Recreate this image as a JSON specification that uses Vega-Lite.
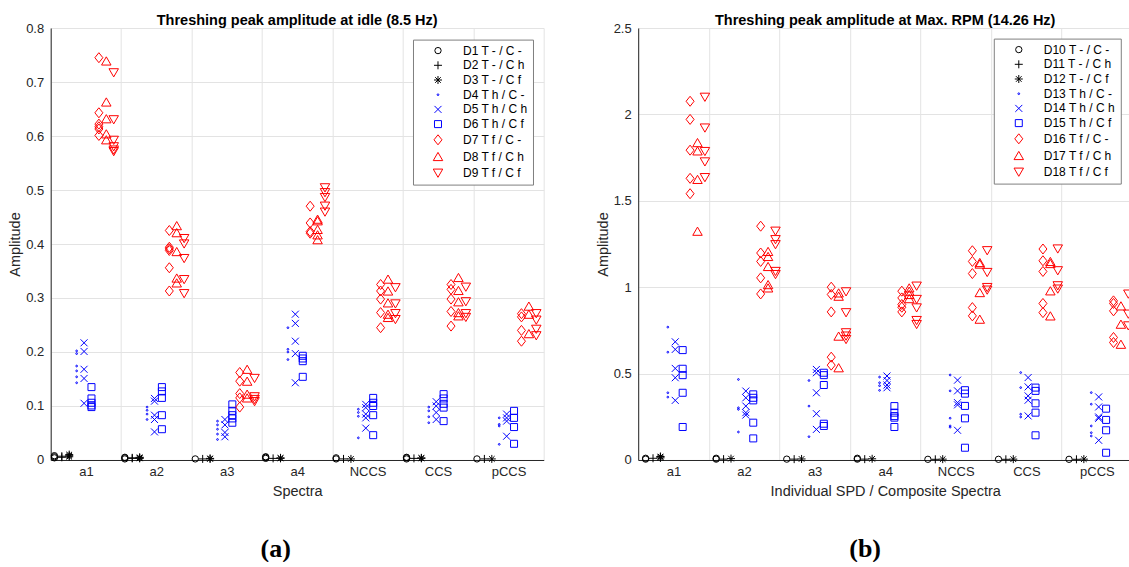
{
  "$schema": "https://vega.github.io/schema/vega-lite/v6.json",
  "padding": {"left": 6.7, "top": 12, "right": 0, "bottom": 0},
  "background": "white",
  "config": {
    "font": "Liberation Sans",
    "view": {"stroke": null},
    "axis": {"domainColor": "#262626", "domainWidth": 1, "labelColor": "#262626", "titleColor": "#262626", "labelFontSize": 13, "titleFontSize": 14.5, "titleFontWeight": "normal", "gridColor": "#e3e3e3", "gridWidth": 1, "ticks": false, "labelPadding": 7},
    "axisX": {"labelPadding": 6, "titlePadding": 6},
    "axisY": {"titlePadding": 3},
    "legend": {"orient": "none", "title": null, "strokeColor": "#808080", "fillColor": "white", "padding": 5, "labelFontSize": 12, "labelColor": "black", "symbolOffset": 14, "labelOffset": 19, "rowPadding": 2.7, "symbolStrokeWidth": 1},
    "concat": {"spacing": 50.5}
  },
  "datasets": {
    "left": [
      {"c":"a1","s":"D1","v":0.004},{"c":"a1","s":"D1","v":0.006},{"c":"a1","s":"D1","v":0.008},
      {"c":"a1","s":"D2","v":0.005},{"c":"a1","s":"D2","v":0.007},
      {"c":"a1","s":"D3","v":0.006},{"c":"a1","s":"D3","v":0.008},{"c":"a1","s":"D3","v":0.01},
      {"c":"a1","s":"D4","v":0.202},{"c":"a1","s":"D4","v":0.197},{"c":"a1","s":"D4","v":0.174},{"c":"a1","s":"D4","v":0.165},{"c":"a1","s":"D4","v":0.154},{"c":"a1","s":"D4","v":0.143},
      {"c":"a1","s":"D5","v":0.217},{"c":"a1","s":"D5","v":0.201},{"c":"a1","s":"D5","v":0.168},{"c":"a1","s":"D5","v":0.151},{"c":"a1","s":"D5","v":0.105},
      {"c":"a1","s":"D6","v":0.135},{"c":"a1","s":"D6","v":0.114},{"c":"a1","s":"D6","v":0.106},{"c":"a1","s":"D6","v":0.101},{"c":"a1","s":"D6","v":0.098},
      {"c":"a1","s":"D7","v":0.745},{"c":"a1","s":"D7","v":0.643},{"c":"a1","s":"D7","v":0.622},{"c":"a1","s":"D7","v":0.617},{"c":"a1","s":"D7","v":0.613},{"c":"a1","s":"D7","v":0.601},
      {"c":"a1","s":"D8","v":0.739},{"c":"a1","s":"D8","v":0.663},{"c":"a1","s":"D8","v":0.632},{"c":"a1","s":"D8","v":0.604},{"c":"a1","s":"D8","v":0.593},
      {"c":"a1","s":"D9","v":0.717},{"c":"a1","s":"D9","v":0.63},{"c":"a1","s":"D9","v":0.592},{"c":"a1","s":"D9","v":0.58},{"c":"a1","s":"D9","v":0.574},{"c":"a1","s":"D9","v":0.571},
      {"c":"a2","s":"D1","v":0.002},{"c":"a2","s":"D1","v":0.004},{"c":"a2","s":"D1","v":0.005},
      {"c":"a2","s":"D2","v":0.003},{"c":"a2","s":"D2","v":0.004},
      {"c":"a2","s":"D3","v":0.003},{"c":"a2","s":"D3","v":0.004},{"c":"a2","s":"D3","v":0.005},
      {"c":"a2","s":"D4","v":0.098},{"c":"a2","s":"D4","v":0.092},{"c":"a2","s":"D4","v":0.085},{"c":"a2","s":"D4","v":0.075},
      {"c":"a2","s":"D5","v":0.114},{"c":"a2","s":"D5","v":0.109},{"c":"a2","s":"D5","v":0.083},{"c":"a2","s":"D5","v":0.075},{"c":"a2","s":"D5","v":0.052},
      {"c":"a2","s":"D6","v":0.135},{"c":"a2","s":"D6","v":0.127},{"c":"a2","s":"D6","v":0.115},{"c":"a2","s":"D6","v":0.083},{"c":"a2","s":"D6","v":0.057},
      {"c":"a2","s":"D7","v":0.425},{"c":"a2","s":"D7","v":0.394},{"c":"a2","s":"D7","v":0.391},{"c":"a2","s":"D7","v":0.388},{"c":"a2","s":"D7","v":0.356},{"c":"a2","s":"D7","v":0.313},
      {"c":"a2","s":"D8","v":0.434},{"c":"a2","s":"D8","v":0.421},{"c":"a2","s":"D8","v":0.386},{"c":"a2","s":"D8","v":0.337},{"c":"a2","s":"D8","v":0.328},
      {"c":"a2","s":"D9","v":0.41},{"c":"a2","s":"D9","v":0.4},{"c":"a2","s":"D9","v":0.373},{"c":"a2","s":"D9","v":0.334},{"c":"a2","s":"D9","v":0.308},
      {"c":"a3","s":"D1","v":0.002},
      {"c":"a3","s":"D2","v":0.002},
      {"c":"a3","s":"D3","v":0.002},{"c":"a3","s":"D3","v":0.003},
      {"c":"a3","s":"D4","v":0.072},{"c":"a3","s":"D4","v":0.065},{"c":"a3","s":"D4","v":0.057},{"c":"a3","s":"D4","v":0.048},{"c":"a3","s":"D4","v":0.038},
      {"c":"a3","s":"D5","v":0.075},{"c":"a3","s":"D5","v":0.065},{"c":"a3","s":"D5","v":0.051},{"c":"a3","s":"D5","v":0.043},
      {"c":"a3","s":"D6","v":0.103},{"c":"a3","s":"D6","v":0.091},{"c":"a3","s":"D6","v":0.083},{"c":"a3","s":"D6","v":0.077},{"c":"a3","s":"D6","v":0.069},
      {"c":"a3","s":"D7","v":0.162},{"c":"a3","s":"D7","v":0.146},{"c":"a3","s":"D7","v":0.123},{"c":"a3","s":"D7","v":0.115},{"c":"a3","s":"D7","v":0.098},
      {"c":"a3","s":"D8","v":0.168},{"c":"a3","s":"D8","v":0.146},{"c":"a3","s":"D8","v":0.122},{"c":"a3","s":"D8","v":0.115},
      {"c":"a3","s":"D9","v":0.151},{"c":"a3","s":"D9","v":0.117},{"c":"a3","s":"D9","v":0.112},{"c":"a3","s":"D9","v":0.108},
      {"c":"a4","s":"D1","v":0.003},{"c":"a4","s":"D1","v":0.005},{"c":"a4","s":"D1","v":0.006},
      {"c":"a4","s":"D2","v":0.003},
      {"c":"a4","s":"D3","v":0.003},{"c":"a4","s":"D3","v":0.004},
      {"c":"a4","s":"D4","v":0.245},{"c":"a4","s":"D4","v":0.205},{"c":"a4","s":"D4","v":0.2},{"c":"a4","s":"D4","v":0.186},
      {"c":"a4","s":"D5","v":0.27},{"c":"a4","s":"D5","v":0.253},{"c":"a4","s":"D5","v":0.22},{"c":"a4","s":"D5","v":0.197},{"c":"a4","s":"D5","v":0.143},
      {"c":"a4","s":"D6","v":0.193},{"c":"a4","s":"D6","v":0.188},{"c":"a4","s":"D6","v":0.183},{"c":"a4","s":"D6","v":0.154},
      {"c":"a4","s":"D7","v":0.47},{"c":"a4","s":"D7","v":0.439},{"c":"a4","s":"D7","v":0.423},{"c":"a4","s":"D7","v":0.42},
      {"c":"a4","s":"D8","v":0.446},{"c":"a4","s":"D8","v":0.443},{"c":"a4","s":"D8","v":0.427},{"c":"a4","s":"D8","v":0.417},{"c":"a4","s":"D8","v":0.408},
      {"c":"a4","s":"D9","v":0.504},{"c":"a4","s":"D9","v":0.495},{"c":"a4","s":"D9","v":0.486},{"c":"a4","s":"D9","v":0.47},{"c":"a4","s":"D9","v":0.459},
      {"c":"NCCS","s":"D1","v":0.002},{"c":"NCCS","s":"D1","v":0.004},
      {"c":"NCCS","s":"D2","v":0.002},
      {"c":"NCCS","s":"D3","v":0.002},
      {"c":"NCCS","s":"D4","v":0.094},{"c":"NCCS","s":"D4","v":0.088},{"c":"NCCS","s":"D4","v":0.081},{"c":"NCCS","s":"D4","v":0.041},
      {"c":"NCCS","s":"D5","v":0.103},{"c":"NCCS","s":"D5","v":0.097},{"c":"NCCS","s":"D5","v":0.085},{"c":"NCCS","s":"D5","v":0.078},{"c":"NCCS","s":"D5","v":0.059},
      {"c":"NCCS","s":"D6","v":0.115},{"c":"NCCS","s":"D6","v":0.106},{"c":"NCCS","s":"D6","v":0.1},{"c":"NCCS","s":"D6","v":0.083},{"c":"NCCS","s":"D6","v":0.046},
      {"c":"NCCS","s":"D7","v":0.325},{"c":"NCCS","s":"D7","v":0.313},{"c":"NCCS","s":"D7","v":0.298},{"c":"NCCS","s":"D7","v":0.273},{"c":"NCCS","s":"D7","v":0.245},
      {"c":"NCCS","s":"D8","v":0.335},{"c":"NCCS","s":"D8","v":0.313},{"c":"NCCS","s":"D8","v":0.291},{"c":"NCCS","s":"D8","v":0.27},{"c":"NCCS","s":"D8","v":0.264},
      {"c":"NCCS","s":"D9","v":0.319},{"c":"NCCS","s":"D9","v":0.289},{"c":"NCCS","s":"D9","v":0.271},{"c":"NCCS","s":"D9","v":0.26},
      {"c":"CCS","s":"D1","v":0.002},{"c":"CCS","s":"D1","v":0.004},{"c":"CCS","s":"D1","v":0.005},
      {"c":"CCS","s":"D2","v":0.003},
      {"c":"CCS","s":"D3","v":0.003},{"c":"CCS","s":"D3","v":0.004},
      {"c":"CCS","s":"D4","v":0.098},{"c":"CCS","s":"D4","v":0.091},{"c":"CCS","s":"D4","v":0.08},{"c":"CCS","s":"D4","v":0.069},
      {"c":"CCS","s":"D5","v":0.108},{"c":"CCS","s":"D5","v":0.1},{"c":"CCS","s":"D5","v":0.088},{"c":"CCS","s":"D5","v":0.075},
      {"c":"CCS","s":"D6","v":0.122},{"c":"CCS","s":"D6","v":0.114},{"c":"CCS","s":"D6","v":0.104},{"c":"CCS","s":"D6","v":0.097},{"c":"CCS","s":"D6","v":0.072},
      {"c":"CCS","s":"D7","v":0.325},{"c":"CCS","s":"D7","v":0.316},{"c":"CCS","s":"D7","v":0.298},{"c":"CCS","s":"D7","v":0.275},{"c":"CCS","s":"D7","v":0.248},
      {"c":"CCS","s":"D8","v":0.338},{"c":"CCS","s":"D8","v":0.314},{"c":"CCS","s":"D8","v":0.293},{"c":"CCS","s":"D8","v":0.273},{"c":"CCS","s":"D8","v":0.267},
      {"c":"CCS","s":"D9","v":0.32},{"c":"CCS","s":"D9","v":0.293},{"c":"CCS","s":"D9","v":0.271},{"c":"CCS","s":"D9","v":0.264},
      {"c":"pCCS","s":"D1","v":0.002},
      {"c":"pCCS","s":"D2","v":0.002},
      {"c":"pCCS","s":"D3","v":0.002},
      {"c":"pCCS","s":"D4","v":0.078},{"c":"pCCS","s":"D4","v":0.066},{"c":"pCCS","s":"D4","v":0.063},{"c":"pCCS","s":"D4","v":0.029},
      {"c":"pCCS","s":"D5","v":0.085},{"c":"pCCS","s":"D5","v":0.078},{"c":"pCCS","s":"D5","v":0.072},{"c":"pCCS","s":"D5","v":0.044},
      {"c":"pCCS","s":"D6","v":0.091},{"c":"pCCS","s":"D6","v":0.078},{"c":"pCCS","s":"D6","v":0.061},{"c":"pCCS","s":"D6","v":0.03},
      {"c":"pCCS","s":"D7","v":0.271},{"c":"pCCS","s":"D7","v":0.265},{"c":"pCCS","s":"D7","v":0.24},{"c":"pCCS","s":"D7","v":0.22},
      {"c":"pCCS","s":"D8","v":0.285},{"c":"pCCS","s":"D8","v":0.27},{"c":"pCCS","s":"D8","v":0.234},
      {"c":"pCCS","s":"D9","v":0.271},{"c":"pCCS","s":"D9","v":0.259},{"c":"pCCS","s":"D9","v":0.242},{"c":"pCCS","s":"D9","v":0.23}
    ],
    "right": [
      {"c":"a1","s":"D10","v":0.005},{"c":"a1","s":"D10","v":0.01},
      {"c":"a1","s":"D11","v":0.01},
      {"c":"a1","s":"D12","v":0.012},{"c":"a1","s":"D12","v":0.018},{"c":"a1","s":"D12","v":0.02},
      {"c":"a1","s":"D13","v":0.769},{"c":"a1","s":"D13","v":0.624},{"c":"a1","s":"D13","v":0.389},{"c":"a1","s":"D13","v":0.364},
      {"c":"a1","s":"D14","v":0.684},{"c":"a1","s":"D14","v":0.64},{"c":"a1","s":"D14","v":0.53},{"c":"a1","s":"D14","v":0.476},{"c":"a1","s":"D14","v":0.345},
      {"c":"a1","s":"D15","v":0.636},{"c":"a1","s":"D15","v":0.528},{"c":"a1","s":"D15","v":0.491},{"c":"a1","s":"D15","v":0.389},{"c":"a1","s":"D15","v":0.191},
      {"c":"a1","s":"D16","v":2.076},{"c":"a1","s":"D16","v":1.971},{"c":"a1","s":"D16","v":1.793},{"c":"a1","s":"D16","v":1.63},{"c":"a1","s":"D16","v":1.541},
      {"c":"a1","s":"D17","v":1.837},{"c":"a1","s":"D17","v":1.789},{"c":"a1","s":"D17","v":1.624},{"c":"a1","s":"D17","v":1.324},
      {"c":"a1","s":"D18","v":2.099},{"c":"a1","s":"D18","v":1.921},{"c":"a1","s":"D18","v":1.785},{"c":"a1","s":"D18","v":1.725},{"c":"a1","s":"D18","v":1.634},
      {"c":"a2","s":"D10","v":0.005},{"c":"a2","s":"D10","v":0.01},
      {"c":"a2","s":"D11","v":0.005},
      {"c":"a2","s":"D12","v":0.008},
      {"c":"a2","s":"D13","v":0.466},{"c":"a2","s":"D13","v":0.302},{"c":"a2","s":"D13","v":0.293},{"c":"a2","s":"D13","v":0.162},
      {"c":"a2","s":"D14","v":0.399},{"c":"a2","s":"D14","v":0.36},{"c":"a2","s":"D14","v":0.312},{"c":"a2","s":"D14","v":0.274},{"c":"a2","s":"D14","v":0.26},
      {"c":"a2","s":"D15","v":0.38},{"c":"a2","s":"D15","v":0.36},{"c":"a2","s":"D15","v":0.345},{"c":"a2","s":"D15","v":0.216},{"c":"a2","s":"D15","v":0.125},
      {"c":"a2","s":"D16","v":1.353},{"c":"a2","s":"D16","v":1.198},{"c":"a2","s":"D16","v":1.149},{"c":"a2","s":"D16","v":1.054},{"c":"a2","s":"D16","v":0.961},
      {"c":"a2","s":"D17","v":1.207},{"c":"a2","s":"D17","v":1.178},{"c":"a2","s":"D17","v":1.12},{"c":"a2","s":"D17","v":1.015},{"c":"a2","s":"D17","v":0.996},
      {"c":"a2","s":"D18","v":1.324},{"c":"a2","s":"D18","v":1.275},{"c":"a2","s":"D18","v":1.246},{"c":"a2","s":"D18","v":1.091},{"c":"a2","s":"D18","v":1.073},
      {"c":"a3","s":"D10","v":0.005},
      {"c":"a3","s":"D11","v":0.005},
      {"c":"a3","s":"D12","v":0.006},
      {"c":"a3","s":"D13","v":0.46},{"c":"a3","s":"D13","v":0.312},{"c":"a3","s":"D13","v":0.135},
      {"c":"a3","s":"D14","v":0.524},{"c":"a3","s":"D14","v":0.505},{"c":"a3","s":"D14","v":0.389},{"c":"a3","s":"D14","v":0.268},{"c":"a3","s":"D14","v":0.177},
      {"c":"a3","s":"D15","v":0.505},{"c":"a3","s":"D15","v":0.491},{"c":"a3","s":"D15","v":0.434},{"c":"a3","s":"D15","v":0.21},{"c":"a3","s":"D15","v":0.197},
      {"c":"a3","s":"D16","v":1.0},{"c":"a3","s":"D16","v":0.958},{"c":"a3","s":"D16","v":0.857},{"c":"a3","s":"D16","v":0.595},{"c":"a3","s":"D16","v":0.549},
      {"c":"a3","s":"D17","v":0.967},{"c":"a3","s":"D17","v":0.948},{"c":"a3","s":"D17","v":0.717},{"c":"a3","s":"D17","v":0.534},
      {"c":"a3","s":"D18","v":0.973},{"c":"a3","s":"D18","v":0.852},{"c":"a3","s":"D18","v":0.736},{"c":"a3","s":"D18","v":0.717},{"c":"a3","s":"D18","v":0.697},
      {"c":"a4","s":"D10","v":0.005},{"c":"a4","s":"D10","v":0.01},
      {"c":"a4","s":"D11","v":0.005},
      {"c":"a4","s":"D12","v":0.007},
      {"c":"a4","s":"D13","v":0.48},{"c":"a4","s":"D13","v":0.447},{"c":"a4","s":"D13","v":0.43},{"c":"a4","s":"D13","v":0.403},
      {"c":"a4","s":"D14","v":0.486},{"c":"a4","s":"D14","v":0.46},{"c":"a4","s":"D14","v":0.434},{"c":"a4","s":"D14","v":0.418},
      {"c":"a4","s":"D15","v":0.312},{"c":"a4","s":"D15","v":0.274},{"c":"a4","s":"D15","v":0.254},{"c":"a4","s":"D15","v":0.245},{"c":"a4","s":"D15","v":0.191},
      {"c":"a4","s":"D16","v":0.977},{"c":"a4","s":"D16","v":0.938},{"c":"a4","s":"D16","v":0.9},{"c":"a4","s":"D16","v":0.884},{"c":"a4","s":"D16","v":0.857},
      {"c":"a4","s":"D17","v":0.996},{"c":"a4","s":"D17","v":0.977},{"c":"a4","s":"D17","v":0.958},{"c":"a4","s":"D17","v":0.934},
      {"c":"a4","s":"D18","v":1.006},{"c":"a4","s":"D18","v":0.929},{"c":"a4","s":"D18","v":0.88},{"c":"a4","s":"D18","v":0.807},{"c":"a4","s":"D18","v":0.784},
      {"c":"NCCS","s":"D10","v":0.004},
      {"c":"NCCS","s":"D11","v":0.004},
      {"c":"NCCS","s":"D12","v":0.005},
      {"c":"NCCS","s":"D13","v":0.492},{"c":"NCCS","s":"D13","v":0.4},{"c":"NCCS","s":"D13","v":0.242},{"c":"NCCS","s":"D13","v":0.197},{"c":"NCCS","s":"D13","v":0.19},
      {"c":"NCCS","s":"D14","v":0.462},{"c":"NCCS","s":"D14","v":0.4},{"c":"NCCS","s":"D14","v":0.332},{"c":"NCCS","s":"D14","v":0.319},{"c":"NCCS","s":"D14","v":0.172},
      {"c":"NCCS","s":"D15","v":0.404},{"c":"NCCS","s":"D15","v":0.384},{"c":"NCCS","s":"D15","v":0.313},{"c":"NCCS","s":"D15","v":0.241},{"c":"NCCS","s":"D15","v":0.071},
      {"c":"NCCS","s":"D16","v":1.211},{"c":"NCCS","s":"D16","v":1.149},{"c":"NCCS","s":"D16","v":1.079},{"c":"NCCS","s":"D16","v":0.882},{"c":"NCCS","s":"D16","v":0.834},
      {"c":"NCCS","s":"D17","v":1.143},{"c":"NCCS","s":"D17","v":1.134},{"c":"NCCS","s":"D17","v":0.969},{"c":"NCCS","s":"D17","v":0.815},
      {"c":"NCCS","s":"D18","v":1.211},{"c":"NCCS","s":"D18","v":1.085},{"c":"NCCS","s":"D18","v":0.998},{"c":"NCCS","s":"D18","v":0.983},
      {"c":"CCS","s":"D10","v":0.004},
      {"c":"CCS","s":"D11","v":0.004},
      {"c":"CCS","s":"D12","v":0.005},
      {"c":"CCS","s":"D13","v":0.506},{"c":"CCS","s":"D13","v":0.419},{"c":"CCS","s":"D13","v":0.265},{"c":"CCS","s":"D13","v":0.249},
      {"c":"CCS","s":"D14","v":0.477},{"c":"CCS","s":"D14","v":0.423},{"c":"CCS","s":"D14","v":0.371},{"c":"CCS","s":"D14","v":0.346},{"c":"CCS","s":"D14","v":0.255},
      {"c":"CCS","s":"D15","v":0.419},{"c":"CCS","s":"D15","v":0.4},{"c":"CCS","s":"D15","v":0.328},{"c":"CCS","s":"D15","v":0.274},{"c":"CCS","s":"D15","v":0.143},
      {"c":"CCS","s":"D16","v":1.221},{"c":"CCS","s":"D16","v":1.153},{"c":"CCS","s":"D16","v":1.091},{"c":"CCS","s":"D16","v":0.906},{"c":"CCS","s":"D16","v":0.853},
      {"c":"CCS","s":"D17","v":1.149},{"c":"CCS","s":"D17","v":1.137},{"c":"CCS","s":"D17","v":0.979},{"c":"CCS","s":"D17","v":0.834},
      {"c":"CCS","s":"D18","v":1.221},{"c":"CCS","s":"D18","v":1.095},{"c":"CCS","s":"D18","v":1.008},{"c":"CCS","s":"D18","v":0.989},
      {"c":"pCCS","s":"D10","v":0.004},
      {"c":"pCCS","s":"D11","v":0.004},
      {"c":"pCCS","s":"D12","v":0.005},
      {"c":"pCCS","s":"D13","v":0.39},{"c":"pCCS","s":"D13","v":0.323},{"c":"pCCS","s":"D13","v":0.197},{"c":"pCCS","s":"D13","v":0.158},{"c":"pCCS","s":"D13","v":0.139},
      {"c":"pCCS","s":"D14","v":0.365},{"c":"pCCS","s":"D14","v":0.307},{"c":"pCCS","s":"D14","v":0.249},{"c":"pCCS","s":"D14","v":0.241},{"c":"pCCS","s":"D14","v":0.114},
      {"c":"pCCS","s":"D15","v":0.297},{"c":"pCCS","s":"D15","v":0.232},{"c":"pCCS","s":"D15","v":0.172},{"c":"pCCS","s":"D15","v":0.042},
      {"c":"pCCS","s":"D16","v":0.921},{"c":"pCCS","s":"D16","v":0.906},{"c":"pCCS","s":"D16","v":0.863},{"c":"pCCS","s":"D16","v":0.709},{"c":"pCCS","s":"D16","v":0.68},
      {"c":"pCCS","s":"D17","v":0.892},{"c":"pCCS","s":"D17","v":0.786},{"c":"pCCS","s":"D17","v":0.67},
      {"c":"pCCS","s":"D18","v":0.96},{"c":"pCCS","s":"D18","v":0.844},{"c":"pCCS","s":"D18","v":0.776}
    ]
  },
  "hconcat": [
    {
      "title": {"text": "(a)", "orient": "bottom", "frame": "bounds", "anchor": "middle", "font": "Liberation Serif", "fontSize": 26, "fontWeight": "bold", "color": "black", "offset": 37.5},
      "vconcat": [
        {
          "width": 493, "height": 432,
          "data": {"name": "left"},
          "title": {"text": "Threshing peak amplitude at idle (8.5 Hz)", "fontSize": 14.5, "fontWeight": "bold", "color": "black", "offset": -6, "anchor": "middle"},
          "mark": {"type": "point", "filled": false, "strokeWidth": 1, "opacity": 1},
          "encoding": {
            "x": {"field": "c", "type": "nominal", "sort": ["a1","a2","a3","a4","NCCS","CCS","pCCS"], "scale": {"paddingInner": 0, "paddingOuter": 0},
              "axis": {"title": "Spectra", "labelAngle": 0, "tickBand": "extent", "grid": true}},
            "xOffset": {"field": "s", "type": "nominal", "sort": ["D1","D2","D3","D4","D5","D6","D7","D8","D9"], "scale": {"type": "point", "padding": 1}},
            "y": {"field": "v", "type": "quantitative", "scale": {"domain": [0, 0.8], "nice": false},
              "axis": {"title": "Amplitude", "values": [0,0.1,0.2,0.3,0.4,0.5,0.6,0.7,0.8], "format": ".1~f", "grid": true}},
            "color": {"field": "s", "type": "nominal", "scale": {"domain": ["D1","D2","D3","D4","D5","D6","D7","D8","D9"], "range": ["#000000","#000000","#000000","#0000ff","#0000ff","#0000ff","#ff0000","#ff0000","#ff0000"]},
              "legend": {"legendX": 362.3, "legendY": 11.6, "labelExpr": "datum.label + ' ' + ['T - / C -','T - / C h','T - / C f','T h / C -','T h / C h','T h / C f','T f / C -','T f / C h','T f / C f'][(toNumber(slice(datum.label,1))-1)%9]"}},
            "shape": {"field": "s", "type": "nominal", "scale": {"domain": ["D1","D2","D3","D4","D5","D6","D7","D8","D9"], "range": ["circle","M-1,0L1,0M0,-1L0,1","M-1,0L1,0M0,-1L0,1M-0.7,-0.7L0.7,0.7M-0.7,0.7L0.7,-0.7","circle","M-1,-1L1,1M-1,1L1,-1","square","M0,-1L0.8,0L0,1L-0.8,0Z","triangle-up","triangle-down"]},
              "legend": {"legendX": 362.3, "legendY": 11.6, "labelExpr": "datum.label + ' ' + ['T - / C -','T - / C h','T - / C f','T h / C -','T h / C h','T h / C f','T f / C -','T f / C h','T f / C f'][(toNumber(slice(datum.label,1))-1)%9]"}},
            "size": {"field": "s", "type": "nominal", "scale": {"type": "ordinal", "domain": ["D1","D2","D3","D4","D5","D6","D7","D8","D9"], "range": [40,64,64,3,49,49,100,90,90]},
              "legend": {"legendX": 362.3, "legendY": 11.6, "labelExpr": "datum.label + ' ' + ['T - / C -','T - / C h','T - / C f','T h / C -','T h / C h','T h / C f','T f / C -','T f / C h','T f / C f'][(toNumber(slice(datum.label,1))-1)%9]"}}
          }
        }
      ]
    },
    {
      "title": {"text": "(b)", "orient": "bottom", "frame": "bounds", "anchor": "middle", "font": "Liberation Serif", "fontSize": 26, "fontWeight": "bold", "color": "black", "offset": 37.5},
      "vconcat": [
        {
          "width": 494, "height": 432,
          "data": {"name": "right"},
          "title": {"text": "Threshing peak amplitude at Max. RPM (14.26 Hz)", "fontSize": 14.5, "fontWeight": "bold", "color": "black", "offset": -6, "anchor": "middle"},
          "mark": {"type": "point", "filled": false, "strokeWidth": 1, "opacity": 1},
          "encoding": {
            "x": {"field": "c", "type": "nominal", "sort": ["a1","a2","a3","a4","NCCS","CCS","pCCS"], "scale": {"paddingInner": 0, "paddingOuter": 0},
              "axis": {"title": "Individual SPD / Composite Spectra", "labelAngle": 0, "tickBand": "extent", "grid": true}},
            "xOffset": {"field": "s", "type": "nominal", "sort": ["D10","D11","D12","D13","D14","D15","D16","D17","D18"], "scale": {"type": "point", "padding": 1}},
            "y": {"field": "v", "type": "quantitative", "scale": {"domain": [0, 2.5], "nice": false},
              "axis": {"title": "Amplitude", "values": [0,0.5,1,1.5,2,2.5], "format": ".1~f", "grid": true}},
            "color": {"field": "s", "type": "nominal", "scale": {"domain": ["D10","D11","D12","D13","D14","D15","D16","D17","D18"], "range": ["#000000","#000000","#000000","#0000ff","#0000ff","#0000ff","#ff0000","#ff0000","#ff0000"]},
              "legend": {"legendX": 355.6, "legendY": 10.6, "labelExpr": "datum.label + ' ' + ['T - / C -','T - / C h','T - / C f','T h / C -','T h / C h','T h / C f','T f / C -','T f / C h','T f / C f'][(toNumber(slice(datum.label,1))-1)%9]"}},
            "shape": {"field": "s", "type": "nominal", "scale": {"domain": ["D10","D11","D12","D13","D14","D15","D16","D17","D18"], "range": ["circle","M-1,0L1,0M0,-1L0,1","M-1,0L1,0M0,-1L0,1M-0.7,-0.7L0.7,0.7M-0.7,0.7L0.7,-0.7","circle","M-1,-1L1,1M-1,1L1,-1","square","M0,-1L0.8,0L0,1L-0.8,0Z","triangle-up","triangle-down"]},
              "legend": {"legendX": 355.6, "legendY": 10.6, "labelExpr": "datum.label + ' ' + ['T - / C -','T - / C h','T - / C f','T h / C -','T h / C h','T h / C f','T f / C -','T f / C h','T f / C f'][(toNumber(slice(datum.label,1))-1)%9]"}},
            "size": {"field": "s", "type": "nominal", "scale": {"type": "ordinal", "domain": ["D10","D11","D12","D13","D14","D15","D16","D17","D18"], "range": [40,64,64,3,49,49,100,90,90]},
              "legend": {"legendX": 355.6, "legendY": 10.6, "labelExpr": "datum.label + ' ' + ['T - / C -','T - / C h','T - / C f','T h / C -','T h / C h','T h / C f','T f / C -','T f / C h','T f / C f'][(toNumber(slice(datum.label,1))-1)%9]"}}
          }
        }
      ]
    }
  ],
  "resolve": {"scale": {"color": "independent", "shape": "independent", "size": "independent"}, "legend": {"color": "independent", "shape": "independent", "size": "independent"}}
}
